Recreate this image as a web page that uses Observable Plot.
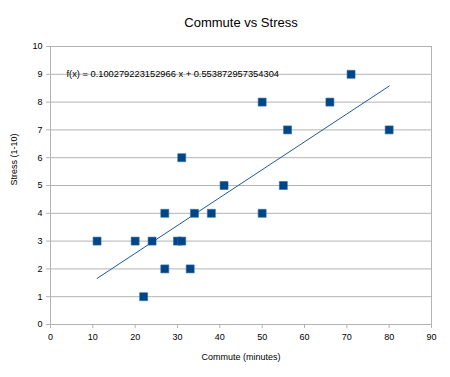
<!DOCTYPE html>
<html>
<head>
<meta charset="utf-8">
<script src="https://cdn.jsdelivr.net/npm/d3@7"></script>
<script src="https://cdn.jsdelivr.net/npm/@observablehq/plot@0.6"></script>
<style>
  html, body { margin: 0; padding: 0; background: #fff; }
  #chart svg { display: block; font-family: "Liberation Sans", Arial, sans-serif; }
</style>
</head>
<body>
<div id="chart"></div>
<script>
const commute = [11, 20, 22, 24, 27, 27, 30, 31, 31, 33, 34, 38, 41, 50, 50, 55, 56, 66, 71, 80];
const stress  = [3, 3, 1, 3, 4, 2, 3, 3, 6, 2, 4, 4, 5, 8, 4, 5, 7, 8, 9, 7];
const xTicks = [0, 10, 20, 30, 40, 50, 60, 70, 80, 90];
const yTicks = [0, 1, 2, 3, 4, 5, 6, 7, 8, 9, 10];
const titleText = "Commute vs Stress";
const xLabel = "Commute (minutes)";
const yLabel = "Stress (1-10)";
const equation = "f(x) = 0.100279223152966 x + 0.553872957354304";

const data = commute.map((c, i) => ({commute: c, stress: stress[i]}));
const grid = "#b3b3b3";
const blue = "#004586";

const chart = Plot.plot({
  width: 450,
  height: 377,
  marginTop: 46,
  marginBottom: 53,
  marginLeft: 50,
  marginRight: 19,
  style: {fontFamily: "Liberation Sans, Arial, sans-serif", fontSize: "9px", color: "#000", background: "#fff"},
  x: {domain: [0, 90]},
  y: {domain: [0, 10]},
  marks: [
    Plot.gridY(yTicks, {stroke: grid, strokeOpacity: 1}),
    Plot.frame({stroke: grid}),
    Plot.axisX(xTicks, {tickSize: 4, stroke: grid, strokeOpacity: 1, text: null, label: null}),
    Plot.axisX(xTicks, {tickSize: 0, tickPadding: 9, fill: "#000", label: null, fontSize: 9}),
    Plot.axisY(yTicks, {tickSize: 4, stroke: grid, strokeOpacity: 1, text: null, label: null}),
    Plot.axisY(yTicks, {tickSize: 0, tickPadding: 8, fill: "#000", label: null, fontSize: 9}),
    Plot.linearRegressionY(data, {x: "commute", y: "stress", stroke: "#1f5a96", strokeWidth: 1, ci: 0}),
    Plot.dot(data, {x: "commute", y: "stress", symbol: "square", r: 4.5, fill: blue, stroke: "#2a6aa8", strokeWidth: 0.6}),
    Plot.text([equation], {frameAnchor: "top-left", dx: 16, dy: 27.3, textAnchor: "start", lineAnchor: "middle", fontSize: 9.3, fill: "#000"}),
    Plot.text([xLabel], {frameAnchor: "bottom", dy: 32.4, lineAnchor: "middle", fontSize: 9, fill: "#000"}),
    Plot.text([yLabel], {frameAnchor: "left", dx: -36, rotate: -90, lineAnchor: "middle", fontSize: 9, fill: "#000"}),
    Plot.text([titleText], {frameAnchor: "top", dy: -23.5, lineAnchor: "middle", fontSize: 13, fill: "#000"})
  ]
});
document.getElementById("chart").appendChild(chart);
</script>
</body>
</html>
